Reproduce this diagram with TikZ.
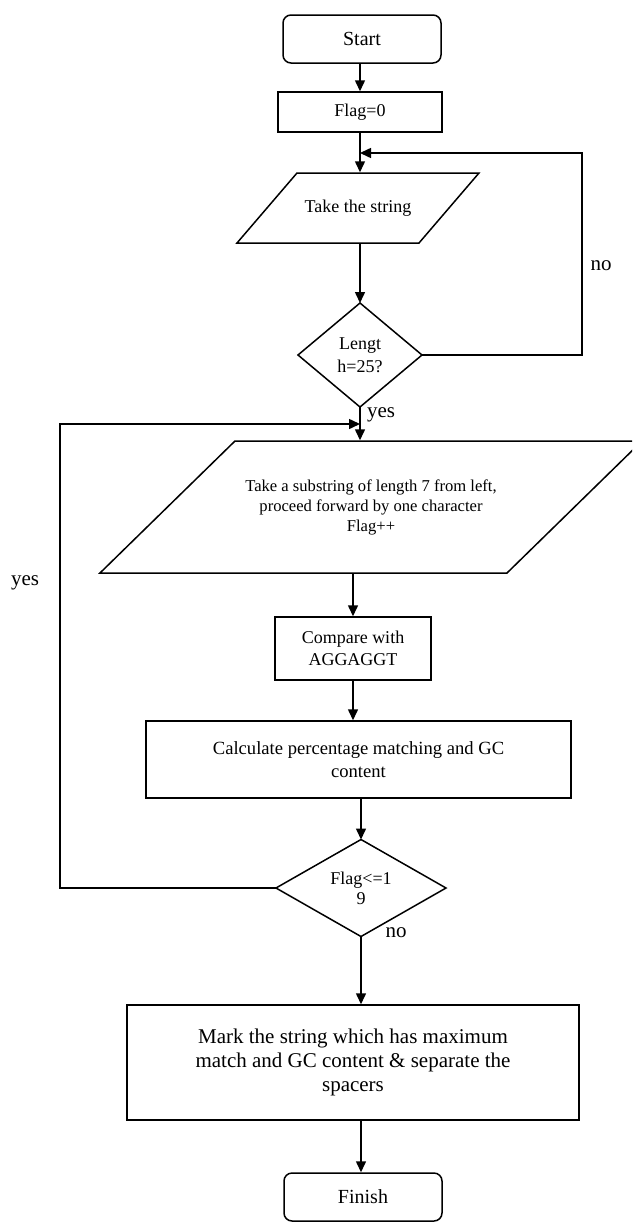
\documentclass[tikz,border=0pt]{standalone}
\usepackage{fontspec}
\setmainfont{Liberation Serif}
\usetikzlibrary{arrows.meta,shapes.geometric,calc}
\begin{document}
\begin{tikzpicture}[x=0.5pt,y=-0.5pt,
  line width=0.75pt,
  arr/.style={-{Triangle[length=5.5pt,width=5pt]}},
  term/.style={draw, rounded corners=4pt, minimum width=79pt, minimum height=24pt, inner sep=0pt, font=\fontsize{10}{12}\selectfont},
  proc/.style={draw, inner sep=0pt, align=center},
  dec/.style={draw, diamond, inner sep=0pt, outer sep=0pt, align=center},
  iobox/.style={inner sep=0pt, align=center},
  lbl/.style={inner sep=0pt, font=\fontsize{10.5}{12}\selectfont}]
\useasboundingbox (0,0) rectangle (632,1226);
\clip (0,0) rectangle (632,1226);

\node[term] (start) at (362,39) {Start};
\node[proc, minimum width=82pt, minimum height=20pt, font=\fontsize{9}{11}\selectfont] (flag) at (360,112) {Flag=0};
\node[iobox, minimum width=61pt, minimum height=35pt, font=\fontsize{9}{11}\selectfont] (str) at (358,208) {Take the string};
\draw (297,173) -- (479,173) -- (419,243) -- (237,243) -- cycle;
\node[dec, minimum width=62pt, minimum height=52pt, aspect=1.2, font=\fontsize{9}{11.5}\selectfont] (len) at (360,355) {Lengt\\h=25?};
\node[iobox, minimum width=203.5pt, minimum height=66pt, font=\fontsize{8.3}{10}\selectfont] (sub) at (371,507) {Take a substring of length 7 from left,\\ proceed forward by one character\\ Flag++};
\draw (235,441) -- (642,441) -- (507,573) -- (100,573) -- cycle;
\node[proc, minimum width=78pt, minimum height=31.5pt, font=\fontsize{9}{11}\selectfont] (cmp) at (353,648.5) {Compare with\\AGGAGGT};
\node[proc, minimum width=212.5pt, minimum height=38.5pt, font=\fontsize{9.3}{11.5}\selectfont] (calc) at (358.5,759.5) {Calculate percentage matching and GC\\content};
\node[dec, minimum width=85pt, minimum height=48.5pt, aspect=1.75, font=\fontsize{9}{10}\selectfont] (flg) at (361,888) {Flag<=1\\9};
\node[proc, minimum width=226pt, minimum height=57.5pt, font=\fontsize{10.5}{12}\selectfont] (mark) at (353,1062.5) {Mark the string which has maximum\\match and GC content \& separate the\\spacers};
\node[term] (fin) at (363,1197) {Finish};

\draw[arr] (flag.north |- start.south) -- (flag.north);
\draw[arr] (flag.south) -- (flag.south |- str.north);
\draw[arr] (len.north |- str.south) -- (len.north);
\coordinate (nc) at (582,153);
\draw[arr] (len.east) -| (nc) -- (flag.south |- nc);
\node[lbl] (no1) at (601,266) {no};
\draw[arr] (len.south) -- (len.south |- sub.north);
\node[lbl] (yes1) at (381,415) {yes};
\draw[arr] (cmp.north |- sub.south) -- (cmp.north);
\draw[arr] (cmp.south) -- (cmp.south |- calc.north);
\draw[arr] (flg.north |- calc.south) -- (flg.north);
\coordinate (yc) at (60,424);
\draw[arr] (flg.west) -| (yc) -- (len.south |- yc);
\node[lbl] (yes2) at (25,583) {yes};
\draw[arr] (flg.south) -- (flg.south |- mark.north);
\node[lbl] (no2) at (396,933) {no};
\draw[arr] (flg.south |- mark.south) -- (flg.south |- fin.north);
\end{tikzpicture}
\end{document}
